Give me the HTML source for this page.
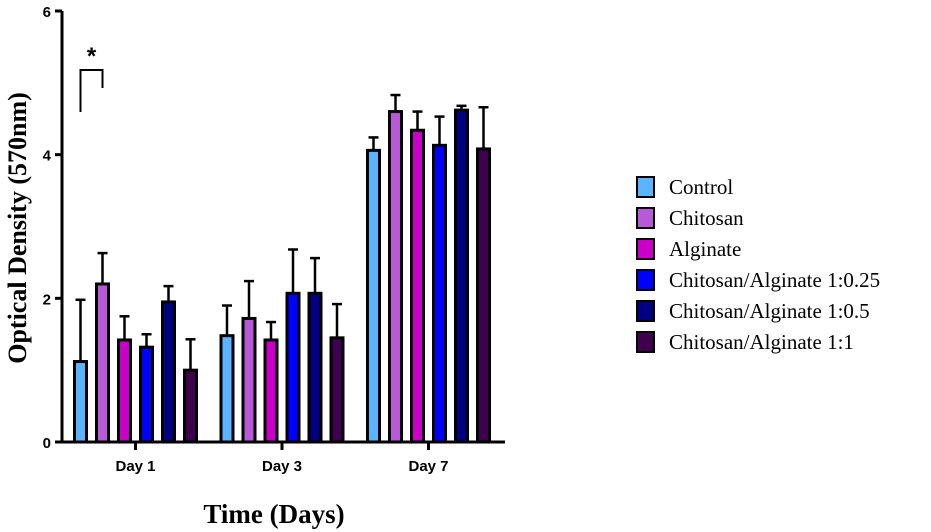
<!DOCTYPE html>
<html><head><meta charset="utf-8"><style>body{margin:0;background:#fff}svg{display:block}</style></head>
<body>
<svg id="chart" width="931" height="532" xmlns="http://www.w3.org/2000/svg"></svg>
<script>
const groups = ["Day 1","Day 3","Day 7"];
const seriesNames = ["Control","Chitosan","Alginate","Chitosan/Alginate 1:0.25","Chitosan/Alginate 1:0.5","Chitosan/Alginate 1:1"];
const colors = ["#5ab4ff","#b85ad8","#c800c8","#0000ff","#000080","#400050"];
const control = [1.12,1.48,4.06];
const chitosan = [2.2,1.72,4.6];
const alginate = [1.42,1.42,4.34];
const ca025 = [1.32,2.07,4.13];
const ca05 = [1.95,2.07,4.62];
const ca1 = [1.0,1.45,4.08];
const controlErr = [0.86,0.42,0.18];
const chitosanErr = [0.43,0.52,0.23];
const alginateErr = [0.33,0.25,0.26];
const ca025Err = [0.18,0.61,0.4];
const ca05Err = [0.22,0.49,0.06];
const ca1Err = [0.43,0.47,0.58];
const yTicks = [0,2,4,6];
const values=[control,chitosan,alginate,ca025,ca05,ca1];
const errs=[controlErr,chitosanErr,alginateErr,ca025Err,ca05Err,ca1Err];
const svg=document.getElementById('chart');
const NS='http://www.w3.org/2000/svg';
function mk(t,a,p){const e=document.createElementNS(NS,t);for(const k in a)e.setAttribute(k,a[k]);(p||svg).appendChild(e);return e;}
const y0=442,yTop=11,yMax=6;
const y=v=>y0-(v/yMax)*(y0-yTop);
const gc=i=>135.5+i*146.5;
const bx=(g,s)=>gc(g)+(s-2.5)*22;
let e=mk('line',{x1:62,y1:yTop,x2:62,y2:y0+1,stroke:'#000','stroke-width':3});

e=mk('line',{x1:61,y1:y0,x2:505,y2:y0,stroke:'#000','stroke-width':3});

yTicks.forEach(t=>{
 let l=mk('line',{x1:55,y1:y(t),x2:62,y2:y(t),stroke:'#000','stroke-width':3});
 
 let tx=mk('text',{x:51,y:y(t)+6,'text-anchor':'end','font-family':'Liberation Sans, sans-serif','font-weight':'bold','font-size':15});
 tx.textContent=t;
});
groups.forEach((g,i)=>{
 let l=mk('line',{x1:gc(i),y1:y0,x2:gc(i),y2:y0+8,stroke:'#000','stroke-width':3});
 
 let tx=mk('text',{x:gc(i),y:y0+29,'text-anchor':'middle','font-family':'Liberation Sans, sans-serif','font-weight':'bold','font-size':15});
 tx.textContent=g;
});
values.forEach((ser,s)=>{ser.forEach((v,g)=>{
 const cx=bx(g,s),top=y(v),et=y(v+errs[s][g]);
 let el=mk('line',{x1:cx,y1:top,x2:cx,y2:et,stroke:'#000','stroke-width':2.5});
 
 el=mk('line',{x1:cx-5,y1:et,x2:cx+5,y2:et,stroke:'#000','stroke-width':2.5});
 
 let r=mk('rect',{x:cx-6,y:top,width:12,height:y0-top,fill:colors[s],stroke:'#000','stroke-width':3});
 
});});
let br=mk('path',{d:`M${bx(0,0)} 112 V70 H${bx(0,1)} V88`,fill:'none',stroke:'#000','stroke-width':2});

let st=mk('text',{x:(bx(0,0)+bx(0,1))/2,y:64,'text-anchor':'middle','font-family':'Liberation Sans, sans-serif','font-weight':'bold','font-size':24});
st.textContent='*';
let yt=mk('text',{x:0,y:0,transform:'translate(26,228) rotate(-90)','text-anchor':'middle','font-family':'Liberation Serif, serif','font-weight':'bold','font-size':26});
yt.textContent='Optical Density (570nm)';
let xt=mk('text',{x:274,y:523,'text-anchor':'middle','font-family':'Liberation Serif, serif','font-weight':'bold','font-size':27});
xt.textContent='Time (Days)';
seriesNames.forEach((n,i)=>{
 const ly=177+i*31;
 let r=mk('rect',{x:637,y:ly,width:17,height:20,fill:colors[i],stroke:'#000','stroke-width':2});
 
 let t=mk('text',{x:669,y:ly+17,'font-family':'Liberation Serif, serif','font-size':21});
 t.textContent=n;
});
</script>
</body></html>
